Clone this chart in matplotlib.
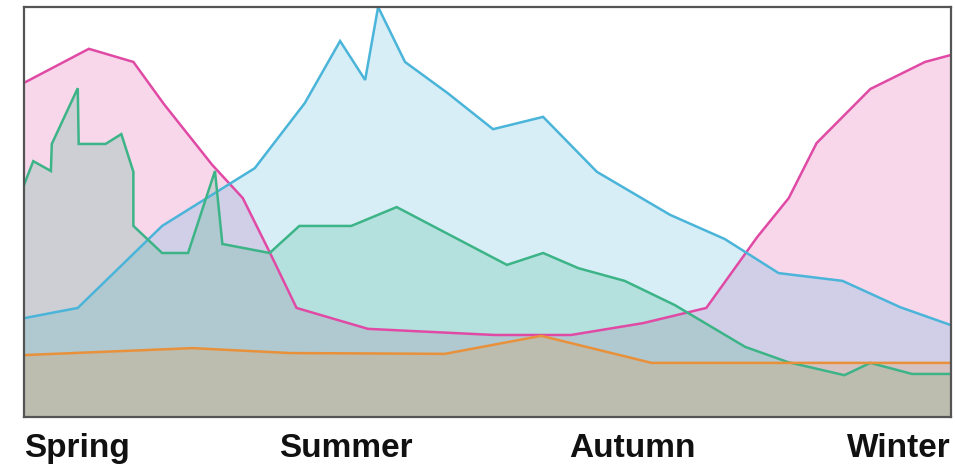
import matplotlib
matplotlib.use("Agg")
import matplotlib.pyplot as plt

# Data (x: percent of the year, y: percent of the axis height)
pink_x = [0, 7.0, 11.8, 15.1, 20.3, 23.6, 26.5, 29.4, 37.1, 41.6, 50.8, 59.0, 66.8, 73.6, 79.1, 82.5, 85.5, 91.3, 97.2, 100]
pink_y = [81.5, 89.8, 86.6, 76.3, 61.5, 53.4, 40.2, 26.6, 21.5, 21.0, 20.0, 20.0, 22.9, 26.6, 43.9, 53.4, 66.8, 80.0, 86.6, 88.3]

blue_x = [0, 5.8, 14.9, 24.9, 30.3, 34.1, 36.8, 38.2, 41.1, 45.7, 50.6, 56.0, 61.8, 69.7, 75.6, 81.4, 88.3, 94.5, 100]
blue_y = [24.1, 26.6, 46.6, 60.7, 76.6, 91.7, 82.2, 100, 86.6, 79.0, 70.2, 73.2, 59.8, 49.3, 43.4, 35.1, 33.2, 26.8, 22.4]

green_x = [0, 1.0, 2.9, 3.0, 5.8, 5.9, 8.8, 10.5, 11.8, 11.8, 14.9, 17.7, 20.6, 21.4, 26.5, 29.7, 35.3, 40.2, 52.1, 56.0, 59.8, 64.8, 70.2, 77.8, 82.4, 88.5, 91.3, 95.8, 100]
green_y = [56.6, 62.4, 60.0, 66.6, 80.2, 66.6, 66.6, 69.0, 59.8, 46.6, 40.0, 40.0, 60.0, 42.2, 40.0, 46.6, 46.6, 51.2, 37.1, 40.0, 36.3, 33.2, 27.3, 17.1, 13.4, 10.2, 13.2, 10.5, 10.5]

orange_x = [0, 18.2, 28.7, 45.4, 55.8, 67.7, 100]
orange_y = [15.1, 16.8, 15.6, 15.4, 19.8, 13.2, 13.2]

season_labels = ["Spring", "Summer", "Autumn", "Winter"]
season_pos = [0, 34.7, 65.6, 100]
season_ha = ["left", "center", "center", "right"]

series = [
    (pink_x, pink_y, "#e04aa5"),
    (blue_x, blue_y, "#4ab4d9"),
    (green_x, green_y, "#3cb487"),
    (orange_x, orange_y, "#e8913a"),
]

fig = plt.figure(figsize=(9.55, 4.66), dpi=100)
ax = fig.add_axes([24 / 955, 1 - 417 / 466, 927 / 955, 410 / 466])

for xs, ys, c in series:
    ax.fill_between(xs, ys, 0, color=c, alpha=0.22, linewidth=0)
for xs, ys, c in series:
    ax.plot(xs, ys, color=c, lw=1.8, solid_joinstyle="miter")

ax.set_xlim(0, 100)
ax.set_ylim(0, 100)
ax.set_xticks([])
ax.set_yticks([])
for s in ax.spines.values():
    s.set_color("#555555")
    s.set_linewidth(1.6)

for lab, pos, ha in zip(season_labels, season_pos, season_ha):
    ax.text(pos, -0.098, lab, transform=ax.get_xaxis_transform(), ha=ha, va="baseline",
            fontsize=24, fontweight="bold", family=["Liberation Sans", "DejaVu Sans"], color="#111111")

fig.savefig("out.png", dpi=100)
